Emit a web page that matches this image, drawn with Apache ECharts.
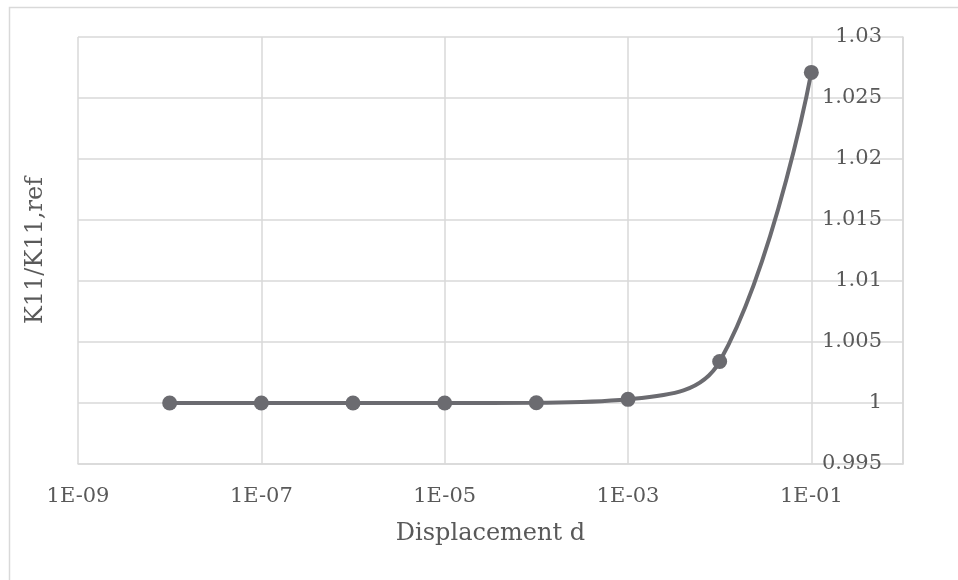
<!DOCTYPE html>
<html>
<head>
<meta charset="utf-8">
<script src="https://cdn.jsdelivr.net/npm/echarts@6/dist/echarts.min.js"></script>
<style>
  html, body { margin: 0; padding: 0; background: #fff; }
  #chart { width: 958px; height: 580px; }
</style>
</head>
<body>
<div id="chart"></div>
<script>
// displacement values (x) and K11/K11,ref (y)
const displacement = [1e-8, 1e-7, 1e-6, 1e-5, 1e-4, 1e-3, 1e-2, 1e-1];
const ratio = [1.0, 1.0, 1.0, 1.0, 1.00002, 1.0003, 1.0034, 1.0271];

const fontFam = 'DejaVu Serif';
const textCol = '#595959';
const gridCol = '#d9d9d9';

function expLabel(v) {
  const e = Math.round(Math.log10(v));
  const a = Math.abs(e);
  return '1E' + (e < 0 ? '-' : '+') + (a < 10 ? '0' + a : a);
}

let chartView = echarts.init(document.getElementById('chart'));
chartView.setOption({
  backgroundColor: '#fff',
  animation: false,
  graphic: [{
    type: 'rect',
    shape: { x: 9.5, y: 7.5, width: 1000, height: 700 },
    style: { fill: 'none', stroke: gridCol, lineWidth: 1.5 },
    silent: true
  }],
  grid: { left: 78, right: 55, top: 37, bottom: 116 },
  xAxis: {
    type: 'log',
    logBase: 10,
    min: 1e-9,
    max: 1,
    interval: 2,
    name: 'Displacement d',
    nameLocation: 'middle',
    nameGap: 58,
    nameTextStyle: { fontFamily: fontFam, fontSize: 24, color: textCol },
    axisLine: { lineStyle: { color: gridCol, width: 1.5 } },
    axisTick: { show: false },
    axisLabel: {
      fontFamily: fontFam, fontSize: 21, color: textCol, margin: 22,
      showMaxLabel: false,
      formatter: expLabel
    },
    splitLine: { show: true, lineStyle: { color: gridCol, width: 1.5 } },
    minorSplitLine: { show: false }
  },
  yAxis: [{
    type: 'value',
    position: 'right',
    min: 0.995,
    max: 1.03,
    interval: 0.005,
    axisLine: { show: true, lineStyle: { color: gridCol, width: 1.5 } },
    axisTick: { show: false },
    axisLabel: {
      inside: true,
      margin: 21,
      fontFamily: fontFam, fontSize: 21, color: textCol,
      formatter: v => String(parseFloat(v.toFixed(3)))
    },
    splitLine: { show: true, lineStyle: { color: gridCol, width: 1.5 } }
  }, {
    type: 'value',
    position: 'left',
    min: 0.995,
    max: 1.03,
    name: 'K11/K11,ref',
    nameLocation: 'middle',
    nameGap: 30,
    nameTextStyle: { fontFamily: fontFam, fontSize: 24, color: textCol },
    axisLine: { show: false },
    axisTick: { show: false },
    axisLabel: { show: false },
    splitLine: { show: false }
  }],
  series: [{
    type: 'line',
    yAxisIndex: 0,
    data: displacement.map((d, i) => [d, ratio[i]]),
    smooth: 0.4,
    symbol: 'circle',
    symbolSize: 15,
    lineStyle: { color: '#6b6b70', width: 4 },
    itemStyle: { color: '#6b6b70' }
  }]
});
window.addEventListener('resize', function () {
  chartView.resize();
});
</script>
</body>
</html>
